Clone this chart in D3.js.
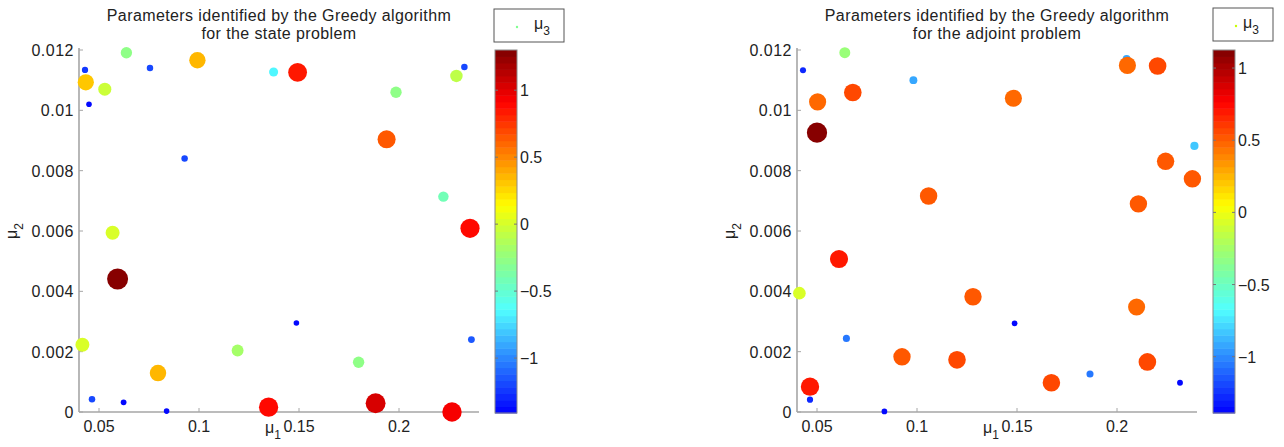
<!DOCTYPE html>
<html lang="en">
<head>
<meta charset="utf-8">
<title>Greedy parameters</title>
<script src="https://cdn.jsdelivr.net/npm/d3@7"></script>
<style>
  body { margin: 0; background: #fff; }
  svg { display: block; font-family: "Liberation Sans", Arial, sans-serif; }
  .tick-label { font-size: 16px; fill: #222; }
  .title { font-size: 16px; fill: #222; letter-spacing: 0.4px; }
</style>
</head>
<body>
<script>
// state problem: mu1, mu2 and mu3 (colour + size)
var stateMu1 = [0.043, 0.0434, 0.045, 0.0529, 0.0637, 0.0755, 0.0992, 0.0928, 0.1373, 0.1493,
                0.1985, 0.1938, 0.2222, 0.2287, 0.2327, 0.0568, 0.0593, 0.0417, 0.0465, 0.0623,
                0.0838, 0.0795, 0.1193, 0.1348, 0.1487, 0.1798, 0.1883, 0.2265, 0.2355, 0.2362];
var stateMu2 = [0.01134, 0.01093, 0.0102, 0.0107, 0.01191, 0.0114, 0.01166, 0.0084, 0.01127, 0.01126,
                0.0106, 0.00904, 0.00714, 0.01114, 0.01144, 0.00594, 0.00441, 0.00223, 0.00042, 0.00032,
                0.00003, 0.00129, 0.00204, 0.00016, 0.00295, 0.00165, 0.00029, 0.0, 0.00609, 0.0024];
var stateMu3 = [-1.25, 0.33, -1.41, -0.03, -0.25, -1.21, 0.36, -1.2, -0.65, 0.82,
                -0.25, 0.67, -0.4, -0.1, -1.2, 0.03, 1.30, 0.03, -1.2, -1.38,
                -1.41, 0.37, -0.18, 0.91, -1.41, -0.25, 1.05, 0.95, 0.9, -1.12];

// adjoint problem
var adjMu1 = [0.043, 0.0639, 0.0503, 0.05, 0.0679, 0.0982, 0.1482, 0.1058, 0.2048, 0.2052,
              0.2203, 0.2243, 0.2107, 0.2387, 0.2377, 0.061, 0.0412, 0.0647, 0.0925, 0.12,
              0.128, 0.1488, 0.0465, 0.0465, 0.0837, 0.1672, 0.1865, 0.2098, 0.2152, 0.2315];
var adjMu2 = [0.01133, 0.01191, 0.01028, 0.00926, 0.01059, 0.011, 0.0104, 0.00716, 0.0117, 0.01149,
              0.01147, 0.00831, 0.0069, 0.00882, 0.00773, 0.00507, 0.00394, 0.00244, 0.00183, 0.00173,
              0.00382, 0.00294, 0.00084, 0.00041, 0.00002, 0.00097, 0.00126, 0.00348, 0.00166, 0.00097];
var adjMu3 = [-1.3, -0.31, 0.49, 1.125, 0.585, -0.9, 0.49, 0.54, -0.9, 0.49,
              0.585, 0.54, 0.54, -0.83, 0.54, 0.68, -0.08, -1.07, 0.54, 0.585,
              0.54, -1.39, 0.72, -1.26, -1.39, 0.56, -1.07, 0.49, 0.585, -1.35];

// axes
var xDomain = [0.04, 0.24];
var yDomain = [0, 0.012];
var xTicks = [0.05, 0.1, 0.15, 0.2];
var yTicks = [0, 0.002, 0.004, 0.006, 0.008, 0.01, 0.012];
var cbTicks = [-1, -0.5, 0, 0.5, 1];
var titleLine1 = "Parameters identified by the Greedy algorithm";

var W = 1284, H = 447;
var svg = d3.select("body").append("svg").attr("width", W).attr("height", H);

// jet, without its dark-blue start, in 56 bands (cyan part a bit washed out like the original)
var nBands = 56;
function jet(t) {
    function c(v) { return Math.max(0, Math.min(1, v)); }
    var r = c(1.5 - Math.abs(4 * t - 3)), g = c(1.5 - Math.abs(4 * t - 2)), b = c(1.5 - Math.abs(4 * t - 1));
    r = r + (1 - r) * 0.32 * g * b;
    return d3.rgb(r * 255, g * 255, b * 255).toString();
}
function bandColor(k) { return jet(0.125 + (k + 0.5) / nBands * 0.875); }

// marker radius from mu3 (same for both panels)
var rScale = d3.scalePow().exponent(0.75).domain([-1.41, 1.30]).range([2.8, 10.5]).clamp(true);

function drawPanel(p) {
    var g = svg.append("g");
    var x = d3.scaleLinear().domain(xDomain).range([p.x0, p.x1]);
    var y = d3.scaleLinear().domain(yDomain).range([412, 50]);
    var ext = d3.extent(p.mu3);
    var cNorm = d3.scaleLinear().domain(ext).range([0, 1]).clamp(true);
    function colorOf(v) { return bandColor(Math.min(nBands - 1, Math.floor(cNorm(v) * nBands))); }

    // title
    var cx = (p.x0 + p.x1) / 2;
    g.append("text").attr("class", "title").attr("x", cx).attr("y", 21).attr("text-anchor", "middle").text(titleLine1);
    g.append("text").attr("class", "title").attr("x", cx).attr("y", 39).attr("text-anchor", "middle").text(p.title2);

    // axes
    var axisCol = "#a6a6a6";
    g.append("line").attr("x1", p.x0).attr("x2", p.x0).attr("y1", y(0.012) - 2).attr("y2", y(0))
        .attr("stroke", axisCol).attr("stroke-width", 1.6);
    g.append("line").attr("x1", p.x0).attr("x2", p.x1).attr("y1", y(0)).attr("y2", y(0))
        .attr("stroke", axisCol).attr("stroke-width", 1.6);
    var fmt = d3.format("~g");
    xTicks.forEach(function (t) {
        g.append("line").attr("x1", x(t)).attr("x2", x(t)).attr("y1", y(0)).attr("y2", y(0) - 4)
            .attr("stroke", axisCol).attr("stroke-width", 1);
        g.append("text").attr("class", "tick-label").attr("x", x(t)).attr("y", 432)
            .attr("text-anchor", "middle").text(fmt(t));
    });
    yTicks.forEach(function (t) {
        g.append("line").attr("x1", p.x0).attr("x2", p.x0 + 4).attr("y1", y(t)).attr("y2", y(t))
            .attr("stroke", axisCol).attr("stroke-width", 1);
        g.append("text").attr("class", "tick-label").attr("x", p.x0 - 5).attr("y", y(t) + 6)
            .attr("text-anchor", "end").style("letter-spacing", "0.5px").text(fmt(t));
    });

    // axis labels
    var xl = g.append("text").attr("class", "tick-label").attr("x", cx - 6).attr("y", 433).attr("text-anchor", "middle");
    xl.append("tspan").text("\u03bc");
    xl.append("tspan").attr("dy", 6).attr("font-size", 12).text("1");
    var yl = g.append("text").attr("class", "tick-label").attr("text-anchor", "middle")
        .attr("transform", "translate(" + (p.x0 - 62) + ",231) rotate(-90)");
    yl.append("tspan").text("\u03bc");
    yl.append("tspan").attr("dy", 6).attr("font-size", 12).text("2");

    // points
    var pts = p.mu1.map(function (d, i) { return { a: d, b: p.mu2[i], c: p.mu3[i] }; });
    g.selectAll("circle.pt").data(pts).enter().append("circle").attr("class", "pt")
        .attr("cx", function (d) { return x(d.a); })
        .attr("cy", function (d) { return y(d.b); })
        .attr("r", function (d) { return rScale(d.c); })
        .attr("fill", function (d) { return colorOf(d.c); });

    // colorbar
    var cb = d3.scaleLinear().domain(ext).range([413, 50]);
    var bandH = (413 - 50) / nBands;
    g.selectAll("rect.band").data(d3.range(nBands)).enter().append("rect").attr("class", "band")
        .attr("x", p.cb0).attr("width", p.cb1 - p.cb0)
        .attr("y", function (k) { return 413 - (k + 1) * bandH; })
        .attr("height", bandH + 0.5)
        .attr("fill", function (k) { return bandColor(k); });
    g.append("rect").attr("x", p.cb0).attr("y", 50).attr("width", p.cb1 - p.cb0).attr("height", 363)
        .attr("fill", "none").attr("stroke", "#8a8a8a").attr("stroke-width", 1);
    var cfmt = d3.format("~g");
    cbTicks.forEach(function (t) {
        var yy = cb(t);
        g.append("line").attr("x1", p.cb0).attr("x2", p.cb0 + 3).attr("y1", yy).attr("y2", yy).attr("stroke", "#777");
        g.append("line").attr("x1", p.cb1 - 3).attr("x2", p.cb1).attr("y1", yy).attr("y2", yy).attr("stroke", "#777");
        g.append("text").attr("class", "tick-label").attr("x", p.cb1 + 3).attr("y", yy + 6).text(cfmt(t));
    });

    // legend
    g.append("rect").attr("x", p.lg0).attr("y", p.lgy).attr("width", p.lgw).attr("height", 33)
        .attr("fill", "#fff").attr("stroke", "#555").attr("stroke-width", 1);
    g.append("circle").attr("cx", p.lg0 + 23).attr("cy", p.lgy + 18).attr("r", 1.2).attr("fill", p.legendColor);
    var lt = g.append("text").attr("class", "tick-label").attr("x", p.lg0 + p.lgw - 30).attr("y", p.lgy + 20);
    lt.append("tspan").text("\u03bc");
    lt.append("tspan").attr("dy", 6).attr("font-size", 12).text("3");
}

drawPanel({ x0: 79, x1: 479, cb0: 495, cb1: 517, lg0: 494, lgw: 70, lgy: 9,
    mu1: stateMu1, mu2: stateMu2, mu3: stateMu3, title2: "for the state problem", legendColor: "#7fff8f" });
drawPanel({ x0: 797, x1: 1197, cb0: 1213, cb1: 1235, lg0: 1213, lgw: 60, lgy: 8,
    mu1: adjMu1, mu2: adjMu2, mu3: adjMu3, title2: "for the adjoint problem", legendColor: "#c8ff00" });
</script>
</body>
</html>
